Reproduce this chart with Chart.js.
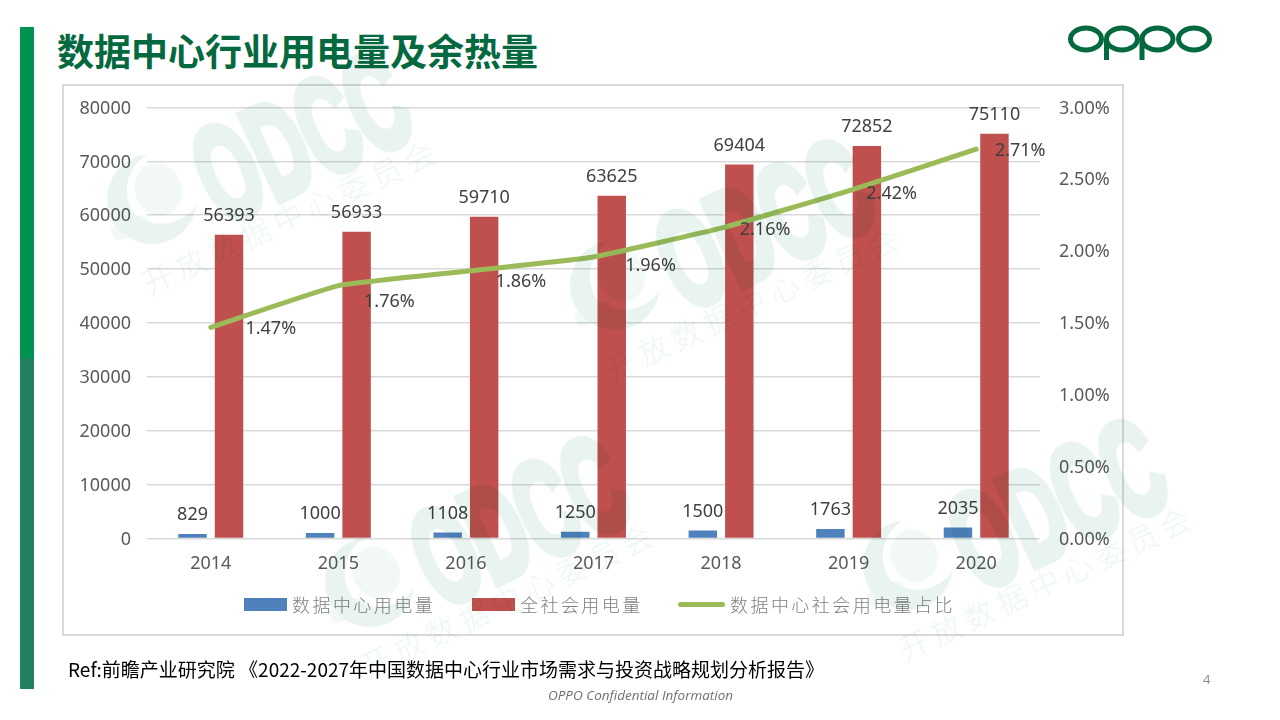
<!DOCTYPE html>
<html lang="zh"><head><meta charset="utf-8">
<script src="https://cdn.jsdelivr.net/npm/chart.js@4/dist/chart.umd.js"></script>
<style>
html,body{margin:0;padding:0;background:#fff;width:1280px;height:720px;overflow:hidden;font-family:"Noto Sans CJK SC","Noto Sans",sans-serif}
.abs{position:absolute;white-space:nowrap}
#bar{left:20px;top:27px;width:14px;height:662px;background:linear-gradient(#00934f 0,#00934f 50%,#21805f 50%,#21805f 100%)}
#title{left:57px;top:23px;font-size:37px;line-height:54px;font-weight:700;color:#05693f}
#frame{left:62px;top:84px;width:1058px;height:548px;border:2px solid #d9d9d9}
#cv{position:absolute;left:0;top:0;width:1280px;height:720px}
#ref{left:68px;top:656px;font-size:19px;line-height:26px;color:#000}
#num{left:1203px;top:670px;font:13px "Open Sans";color:#8a8a8a}
#foot{left:548px;top:686px;font:italic 13.5px "Open Sans";color:#6f6f6f}
.lg{position:absolute;top:590px;font:300 18px/28px "Noto Sans CJK SC";letter-spacing:2.45px;color:#7f7f7f;white-space:nowrap}
.sw{position:absolute}
.wm{position:absolute;left:0;top:0;width:10px;height:10px;transform-origin:0 0;mix-blend-mode:multiply;pointer-events:none;color:#e9f4f1}
.wm .big{position:absolute;left:80px;top:-132px;font:700 135px/135px "Liberation Sans";transform:scaleX(.55);transform-origin:0 50%;-webkit-text-stroke:9px #e9f4f1;white-space:nowrap}
.wm .sub{position:absolute;left:-15px;top:-18px;font:300 30px/36px "Noto Sans CJK SC";letter-spacing:6px;color:#edf6f3;white-space:nowrap}
.wm svg{position:absolute;left:-22px;top:-122px}
</style></head><body>
<div id="bar" class="abs"></div>
<div id="title" class="abs">数据中心行业用电量及余热量</div>
<svg class="abs" style="left:0;top:0" width="1280" height="80" aria-label="OPPO">
<g fill="none" stroke="#05693f" stroke-width="5">
<ellipse cx="1086" cy="39" rx="15.5" ry="11"/><ellipse cx="1122" cy="39" rx="15.5" ry="11"/>
<ellipse cx="1157.5" cy="39" rx="15.5" ry="11"/><ellipse cx="1194" cy="39" rx="15.5" ry="11"/>
<path d="M1106.5 39V60M1142 39V60"/></g></svg>
<div id="frame" class="abs"></div>
<canvas id="cv" width="1280" height="720"></canvas>
<div id="legend"></div>
<div id="wms"></div>
<div id="ref" class="abs">Ref:前瞻产业研究院 《2022-2027年中国数据中心行业市场需求与投资战略规划分析报告》</div>
<div id="num" class="abs">4</div>
<div id="foot" class="abs">OPPO Confidential Information</div>
<script>
const categories = ['2014','2015','2016','2017','2018','2019','2020'];
const dataCenterPower = [829,1000,1108,1250,1500,1763,2035];
const totalPower = [56393,56933,59710,63625,69404,72852,75110];
const sharePercent = [1.47,1.76,1.86,1.96,2.16,2.42,2.71];
const seriesNames = ['数据中心用电量','全社会用电量','数据中心社会用电量占比'];
const leftTicks = [0,10000,20000,30000,40000,50000,60000,70000,80000];
const rightTicks = [0,0.5,1,1.5,2,2.5,3];
const shareLabelDx = [60,51,55,57,44,43,44];
const shareLabelDy = [2,16,11,9,2,3,2];

const labelPlugin = {
  id:'valueLabels',
  afterDatasetsDraw(c){
    const x=c.ctx; x.save();
    x.font='18px "Noto Sans"'; x.fillStyle='#404040'; x.textAlign='center'; x.textBaseline='middle';
    [0,1].forEach(d=>c.getDatasetMeta(d).data.forEach((el,i)=>{
      x.fillText(String(c.data.datasets[d].data[i]), el.x, el.y-19);
    }));
    c.getDatasetMeta(2).data.forEach((el,i)=>{
      x.fillText(sharePercent[i].toFixed(2)+'%', el.x+shareLabelDx[i], el.y+shareLabelDy[i]);
    });
    x.restore();
  }
};
Chart.defaults.animation=false;
new Chart(document.getElementById('cv'),{
  data:{labels:categories,datasets:[
    {type:'bar',label:seriesNames[0],data:dataCenterPower,backgroundColor:'#4f81bd',yAxisID:'y',order:2,categoryPercentage:.572,barPercentage:.78},
    {type:'bar',label:seriesNames[1],data:totalPower,backgroundColor:'#c0504d',yAxisID:'y',order:2,categoryPercentage:.572,barPercentage:.78},
    {type:'line',label:seriesNames[2],data:sharePercent,borderColor:'#9bbb59',borderWidth:5,pointRadius:0,tension:.1,yAxisID:'y1',order:1,borderCapStyle:'round'}
  ]},
  plugins:[labelPlugin],
  options:{
    responsive:false,devicePixelRatio:1,
    layout:{padding:{top:107.5,left:0,right:0,bottom:0}},
    plugins:{legend:{display:false},tooltip:{enabled:false}},
    scales:{
      x:{afterFit(s){s.height=181.5},grid:{display:false},border:{display:false},
         ticks:{padding:7,color:'#595959',font:{family:'Noto Sans',size:18},maxRotation:0}},
      y:{position:'left',min:0,max:80000,afterFit(s){s.width=147},
         afterBuildTicks(s){s.ticks=leftTicks.map(v=>({value:v}))},
         grid:{color:'#d9d9d9',lineWidth:1.6,drawTicks:false},border:{display:false},
         ticks:{padding:16,labelOffset:1,color:'#595959',font:{family:'Noto Sans',size:18},callback:v=>String(v)}},
      y1:{position:'right',min:0,max:3,afterFit(s){s.width=240},
         afterBuildTicks(s){s.ticks=rightTicks.map(v=>({value:v}))},
         grid:{display:false},border:{display:false},
         ticks:{padding:11,labelOffset:1,color:'#595959',font:{family:'Noto Sans',size:18},callback:v=>v.toFixed(2)+'%'}}
    }
  }
});

// legend
const lg=document.getElementById('legend');
[[244,292,'#4f81bd'],[472,520,'#c0504d'],[678,730,'#9bbb59']].forEach((p,i)=>{
  const s=document.createElement('div'); s.className='sw';
  if(i<2){s.style.cssText=`left:${p[0]}px;top:598px;width:43px;height:13px;background:${p[2]}`;}
  else{s.style.cssText=`left:${p[0]}px;top:602px;width:47px;height:5px;border-radius:3px;background:${p[2]}`;}
  lg.appendChild(s);
  const t=document.createElement('div'); t.className='lg'; t.style.left=p[1]+'px'; t.textContent=seriesNames[i]; lg.appendChild(t);
});

// watermarks
const wmText='开放数据中心委员会';
[[157,277],[620,363],[375,660],[913,643]].forEach(([l,t],k)=>{
  const w=document.createElement('div'); w.className='wm';
  w.style.transform=`translate(${l}px,${t}px) rotate(-25deg)`;
  w.innerHTML=`<svg width="100" height="100" viewBox="0 0 120 120"><defs><pattern id="p${k}" width="3" height="3" patternUnits="userSpaceOnUse" patternTransform="rotate(70)"><rect width="1.7" height="3" fill="#e9f4f1"/></pattern></defs><path d="M78 8A54 54 0 1 0 106 88A52 52 0 0 1 34 68A50 50 0 0 1 78 8Z" fill="#e9f4f1"/><ellipse cx="72" cy="52" rx="28" ry="32" fill="url(#p${k})"/><ellipse cx="20" cy="78" rx="26" ry="11" fill="url(#p${k})"/></svg><div class="big">ODCC</div><div class="sub">${wmText}</div>`;
  document.getElementById('wms').appendChild(w);
});
</script>
</body></html>
